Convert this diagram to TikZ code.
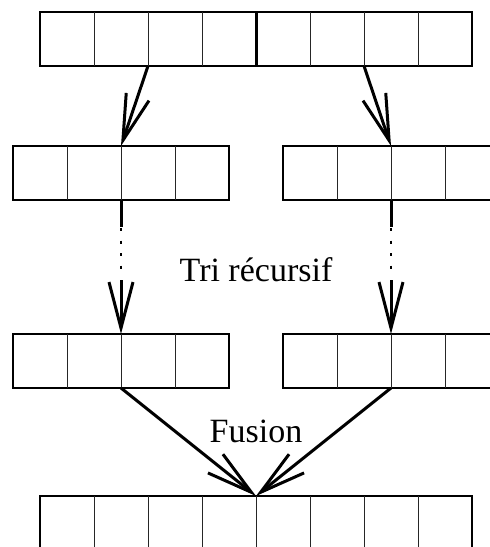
\documentclass[tikz,border=0pt]{standalone}
\usepackage{fontspec}
\setmainfont{Liberation Serif}
\usetikzlibrary{arrows.meta,calc}
\begin{document}
\begin{tikzpicture}[x=1pt,y=-1pt,
 arr/.style={draw, line width=1.7pt, minimum height=54pt, inner sep=0pt, outer sep=0pt},
 half/.style={arr, minimum width=216pt},
 full/.style={arr, minimum width=432pt},
 cell/.style={line width=0.8pt, draw=black!85},
 conn/.style={line width=3pt, -{Straight Barb[length=46pt,width=24pt,line width=3pt]}},
 solidpart/.style={line width=3pt},
 dots/.style={line width=2pt, dash pattern=on 3pt off 9.5pt},
 lbl/.style={font=\fontsize{34}{40}\selectfont, anchor=base}]
\useasboundingbox (0,0) rectangle (490,547);
\clip (0,0) rectangle (490,547);
% arrays
\node[full] (top) at (256,39) {};
\node[half] (l1) at (121,173) {};
\node[half] (r1) at (391,173) {};
\node[half] (l2) at (121,361) {};
\node[half] (r2) at (391,361) {};
\node[full] (bot) at (256,523) {};
% cell dividers
\foreach \k in {1,2,3,5,6,7} {
  \draw[cell] ($(top.north west)+(\k*54,0)$) -- ($(top.south west)+(\k*54,0)$);
  \draw[cell] ($(bot.north west)+(\k*54,0)$) -- ($(bot.south west)+(\k*54,0)$);
}
\draw[line width=3pt] (top.north) -- (top.south);
\draw[cell] (bot.north) -- (bot.south);
\foreach \a in {l1,r1,l2,r2} {
  \foreach \k in {1,2,3} {
    \draw[cell] ($(\a.north west)+(\k*54,0)$) -- ($(\a.south west)+(\k*54,0)$);
  }
}
% connection points
\coordinate (tA) at ($(top.south west)+(108,0)$);
\coordinate (tB) at ($(top.south west)+(324,0)$);
\coordinate (l1n) at ($(l1.north west)+(108,0)$);
\coordinate (r1n) at ($(r1.north west)+(108,0)$);
\coordinate (l1s) at ($(l1.south west)+(108,0)$);
\coordinate (r1s) at ($(r1.south west)+(108,0)$);
\coordinate (l2n) at ($(l2.north west)+(108,0)$);
\coordinate (r2n) at ($(r2.north west)+(108,0)$);
\coordinate (l2s) at ($(l2.south west)+(108,0)$);
\coordinate (r2s) at ($(r2.south west)+(108,0)$);
% split arrows
\draw[conn] (tA) -- (l1n);
\draw[conn] (tB) -- (r1n);
% recursive (dotted) arrows
\foreach \s/\n in {l1s/l2n, r1s/r2n} {
  \coordinate (d1) at ($(\s)+(0,27)$);
  \coordinate (d2) at ($(\s)+(0,28)$);
  \coordinate (d3) at ($(\s)+(0,70)$);
  \coordinate (d4) at ($(\s)+(0,80)$);
  \draw[solidpart] (\s) -- (d1);
  \draw[dots] (d2) -- (d3);
  \draw[conn] (d4) -- (\n);
}
% merge arrows
\draw[conn] (l2s) -- (bot.north);
\draw[conn] (r2s) -- (bot.north);
% labels
\node[lbl] (tri) at (256,281) {Tri récursif};
\node[lbl] (fus) at (256,442) {Fusion};
\end{tikzpicture}
\end{document}
